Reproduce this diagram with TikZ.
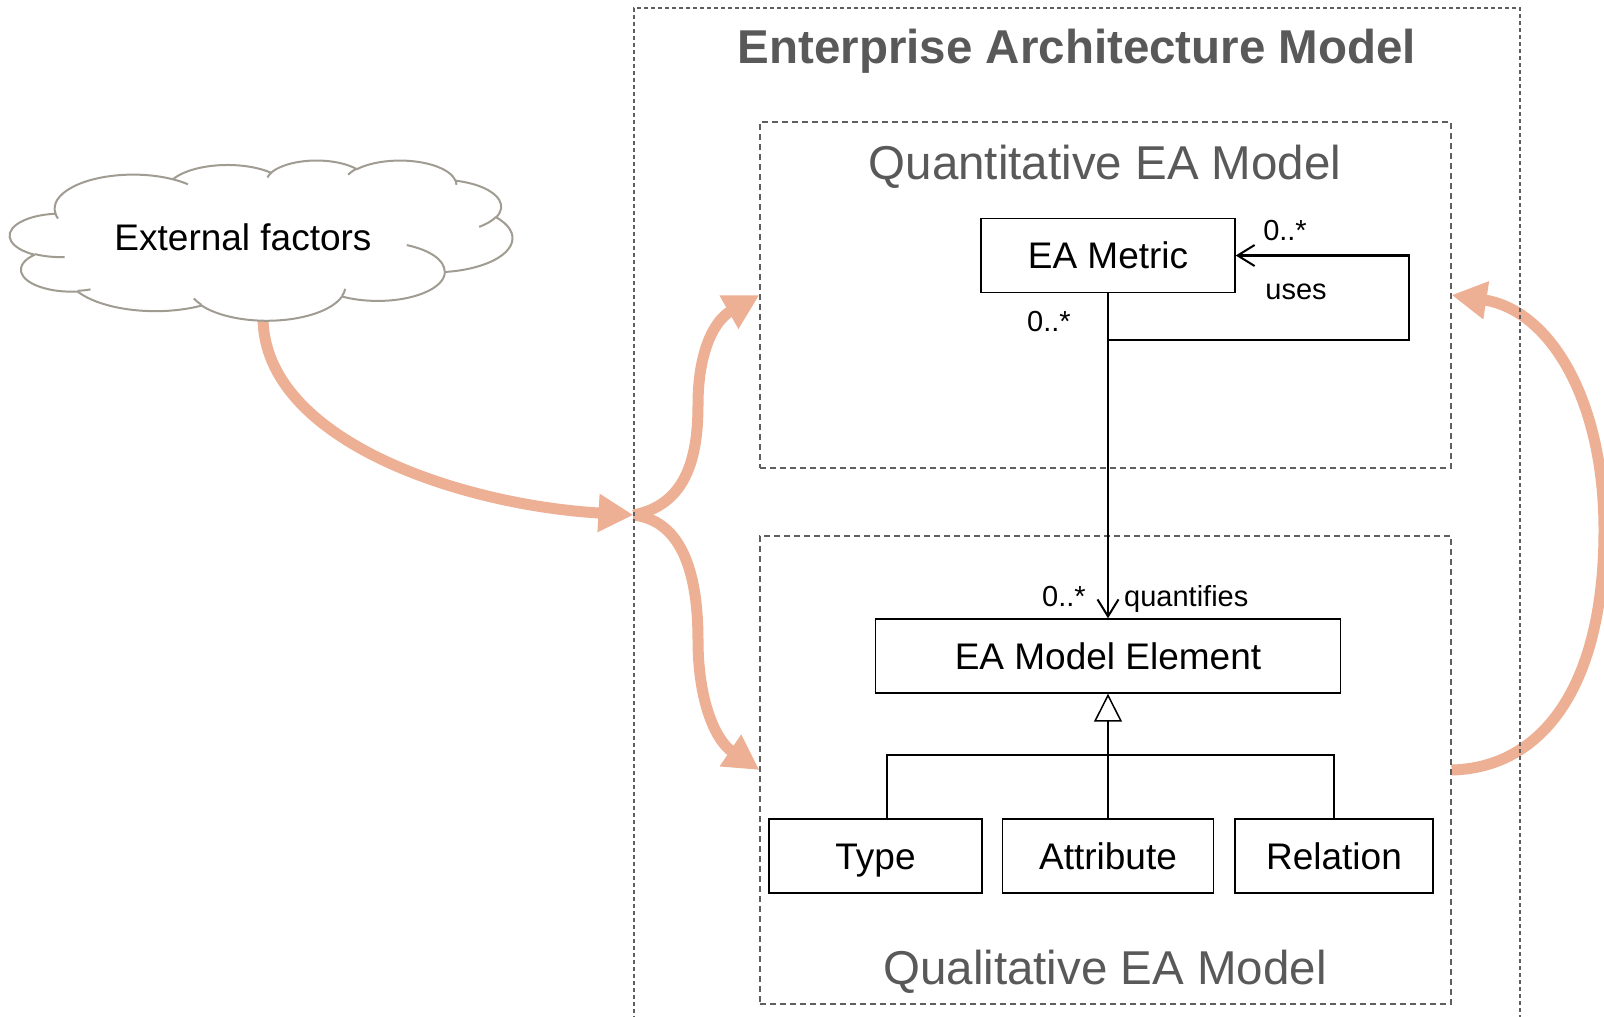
\documentclass[tikz,border=0pt]{standalone}
\usepackage{fontspec}
\setmainfont{Liberation Sans}
\usetikzlibrary{arrows.meta,backgrounds}

\definecolor{flowcol}{RGB}{237,176,148}
\definecolor{framecol}{RGB}{95,95,95}
\definecolor{headcol}{RGB}{89,89,89}
\definecolor{cloudcol}{RGB}{160,156,146}

% elliptical arc: radii, start angle and sweep given as true (not parametric) angles
\newcommand\cldarc[4]{arc[x radius=#1, y radius=#2,
  start angle={atan2((#1)*sin(#3),(#2)*cos(#3))},
  delta angle={mod(atan2((#1)*sin((#3)+(#4)),(#2)*cos((#3)+(#4)))-atan2((#1)*sin(#3),(#2)*cos(#3))+720,360)}]}

\begin{document}
\begin{tikzpicture}[x=1pt, y=-1pt,
  flow/.style={draw=flowcol, line width=11pt, -{Triangle[length=35pt,width=36pt]}},
  outerframe/.style={draw=framecol, line width=1.1pt, dash pattern=on 4pt off 3pt, inner sep=0pt},
  dashframe/.style={draw=framecol, line width=1.2pt, dash pattern=on 6pt off 4pt, inner sep=0pt},
  umlbox/.style={draw=black, line width=1.4pt, fill=white, inner sep=0pt, minimum height=74pt,
    text height=26.5pt, text depth=0pt, font=\fontsize{37}{44}\selectfont},
  mult/.style={inner sep=0pt, font=\fontsize{29}{34}\selectfont},
  heading/.style={inner sep=0pt, text=headcol, font=\fontsize{47.5}{56}\selectfont},
  conn/.style={draw=black, line width=2.4pt},
  assoc/.style={conn, -{Straight Barb[length=17pt,width=21pt,line width=2pt]}},
  gener/.style={conn, -{Triangle[open,length=28pt,width=28pt,line width=1.5pt]}},
  cloudline/.style={draw=cloudcol, line width=2pt, line join=round}
]
\useasboundingbox (0,0) rectangle (1604,1017);
\clip (0,0) rectangle (1604,1017);

% containers
\node[outerframe, minimum width=886pt, minimum height=1014pt] (ea) at (1077,515) {};
\node[dashframe, minimum width=691pt, minimum height=346pt] (quant) at (1105.5,295) {};
\node[dashframe, minimum width=691pt, minimum height=468pt] (qual) at (1105.5,770) {};

\node[heading, anchor=base, font=\fontsize{47.5}{56}\selectfont\bfseries] (eatitle) at (1077,63) {Enterprise Architecture Model};
\node[heading, anchor=base] (quanttitle) at (1105,179) {Quantitative EA Model};
\node[heading, anchor=base] (qualtitle) at (1105,984) {Qualitative EA Model};

% classes
\node[umlbox, minimum width=254pt] (metric) at (1108,255.5) {EA Metric};
\node[umlbox, minimum width=465pt] (elem) at (1108,656) {EA Model Element};
\node[umlbox, minimum width=213pt] (type) at (875.5,856) {Type};
\node[umlbox, minimum width=211pt] (attr) at (1108,856) {Attribute};
\node[umlbox, minimum width=198pt] (rel) at (1334,856) {Relation};

% associations
\coordinate (usesfoot) at (1108,340);
\coordinate (usesturn) at (1409,255.5);
\draw[assoc] (metric.south) -- (elem.north);
\draw[assoc] (usesfoot) -| (usesturn) -- (metric.east);

\node[mult, anchor=base] (multuses) at (1285,240) {0..*};
\node[mult, anchor=base] (useslabel) at (1296,299) {uses};
\node[mult, anchor=base] (multmetric) at (1049,331) {0..*};
\node[mult, anchor=base] (multelem) at (1064,606) {0..*};
\node[mult, anchor=base west] (quantlabel) at (1124,606) {quantifies};

% generalisation
\coordinate (genbar) at (1108,755);
\draw[conn] ([xshift=11.5pt]type.north) |- (genbar) -| (rel.north);
\draw[gener] (attr.north) -- (elem.south);

% cloud
\begin{scope}[shift={(10,160)}, x=0.011620pt, y=-0.0037037pt, cloudline]
\draw[fill=white] (3900,14370)
  \cldarc{6753}{9190}{-190.48748}{123.78053}
  \cldarc{5333}{7267}{-144.10238}{89.94523}
  \cldarc{4365}{5945}{-145.80792}{99.72302}
  \cldarc{4857}{6595}{-130.98607}{117.24173}
  \cldarc{5333}{7273}{-78.70888}{109.02692}
  \cldarc{6775}{9220}{-46.26725}{130.269}
  \cldarc{5785}{7867}{0.62502}{114.03333}
  \cldarc{6752}{9215}{22.4516}{115.17255}
  \cldarc{7720}{10543}{66.24263}{75.71102}
  \cldarc{4360}{5918}{-274.94208}{146.73557}
  \cldarc{4345}{5945}{-246.8285}{152.51885}
  -- cycle;
\draw
  (4693,26177) \cldarc{4345}{5945}{86.742}{26.4295}
  (6928,34899) \cldarc{4360}{5918}{73.61047}{11.44747}
  (16478,39090) \cldarc{6752}{9215}{137.62415}{14.0811}
  (28827,34751) \cldarc{6752}{9215}{6.45327}{15.99835}
  (34129,22954) \cldarc{5785}{7867}{-70.29235}{70.91737}
  (41798,15354) \cldarc{5333}{7273}{30.31803}{27.7515}
  (38324,5426) \cldarc{4857}{6595}{-13.74433}{14.8589}
  (29078,3952) \cldarc{4857}{6595}{-149.18145}{18.19537}
  (22141,4720) \cldarc{4365}{5945}{-163.49427}{17.68635}
  (14000,5192) \cldarc{6753}{9190}{-66.70695}{12.31935}
  (4127,15789) \cldarc{6753}{9190}{157.65435}{11.85817};
\end{scope}
\node[anchor=base, inner sep=0pt, font=\fontsize{37}{44}\selectfont] (ext) at (243,250) {External factors};
\coordinate (cloudfoot) at (263,318);

% influence arrows
\begin{scope}[on background layer]
\fill[white] (0,0) rectangle (1604,1017);
\draw[flow] (cloudfoot) .. controls (264,440) and (460,505) .. (ea.west);
\draw[flow] (ea.west) .. controls (685,505) and (698,460) .. (698,405)
  .. controls (698,350) and (715,320) .. (quant.west);
\draw[flow] (ea.west) .. controls (685,521) and (698,580) .. (698,640)
  .. controls (698,700) and (715,740) .. (qual.west);
\draw[flow] (qual.east) .. controls (1540,768) and (1604,690) .. (1604,530)
  .. controls (1604,400) and (1550,310) .. (quant.east);
\end{scope}
\end{tikzpicture}
\end{document}
